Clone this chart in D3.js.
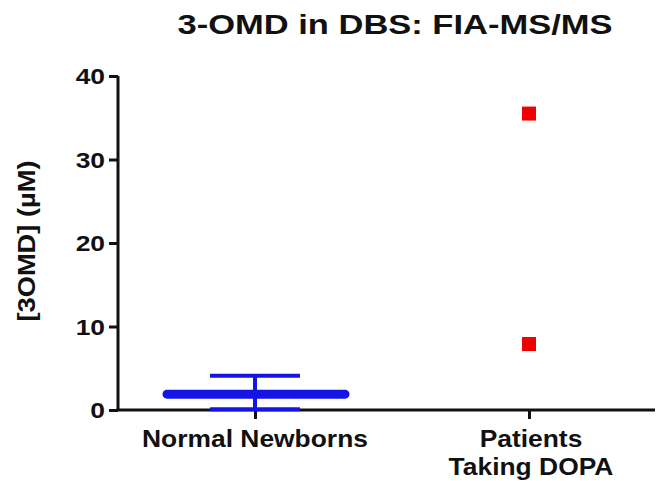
<!DOCTYPE html>
<html><head><meta charset="utf-8">
<script src="https://cdn.jsdelivr.net/npm/d3@7"></script>
<style>body{margin:0;background:#fff}svg{display:block}text{font-family:"Liberation Sans",Arial,sans-serif;font-weight:bold;fill:#111}</style>
</head><body>
<script>
const categories = ["Normal Newborns", "Patients Taking DOPA"];
const categoryLines = [["Normal Newborns"], ["Patients", "Taking DOPA"]];
const newbornMean = 1.9, newbornUpper = 4.1, newbornLower = 0.1;
const patientValues = [35.5, 7.9];
const yTicks = [0, 10, 20, 30, 40];
const title = "3-OMD in DBS: FIA-MS/MS";
const yLabel = "[3OMD] (µM)";

(function () {
const W = 658, H = 481;
const svg = d3.select("body").append("svg").attr("width", W).attr("height", H);
const mL = 118, mR = 655, mT = 76, mB = 410;
const x = d3.scalePoint().domain(categories).range([255, 529]);
const y = d3.scaleLinear().domain([0, 40]).range([mB, mT]);
function widen(sel, stretch) {
  sel.each(function () {
    const w = this.getComputedTextLength();
    d3.select(this).attr("textLength", w * stretch).attr("lengthAdjust", "spacingAndGlyphs");
  });
}

svg.append("text").attr("x", 395).attr("y", 34).attr("text-anchor", "middle").style("font-size", "27px").text(title)
  .attr("textLength", 435).attr("lengthAdjust", "spacingAndGlyphs");

const ya = svg.append("g").attr("transform", `translate(${mL},0)`)
  .call(d3.axisLeft(y).tickValues(yTicks).tickSize(9).tickPadding(4));
ya.select(".domain").attr("stroke", "#111").attr("stroke-width", 3).attr("d", `M0,${mT}V${mB}`);
ya.selectAll(".tick line").attr("stroke", "#111").attr("stroke-width", 3);
ya.selectAll(".tick text").style("font-size", "22px").attr("dy", "0.36em").style("font-family", '"Liberation Sans",Arial,sans-serif').style("font-weight", "bold").attr("fill", "#111").call(widen, 1.2);

const xa = svg.append("g").attr("transform", `translate(0,${mB})`)
  .call(d3.axisBottom(x).tickSize(9).tickFormat(""));
xa.select(".domain").attr("stroke", "#111").attr("stroke-width", 3).attr("d", `M${mL - 1.5},0H${mR}`);
xa.selectAll(".tick line").attr("stroke", "#111").attr("stroke-width", 3);

categoryLines.forEach((lines, i) => {
  lines.forEach((l, j) => svg.append("text").attr("x", x(categories[i]) + (i ? 2 : 0)).attr("y", 447 + j * 28)
    .attr("text-anchor", "middle").style("font-size", "24px").text(l).call(widen, 1.1));
});

svg.append("text").attr("transform", `translate(35,241) rotate(-90)`).attr("text-anchor", "middle").style("font-size", "23px").text(yLabel)
  .attr("textLength", 161).attr("lengthAdjust", "spacingAndGlyphs");

const blue = "#1414e6";
const cx = x(categories[0]);
const g = svg.append("g");
g.append("line").attr("x1", cx).attr("x2", cx).attr("y1", y(newbornUpper)).attr("y2", y(newbornLower)).attr("stroke", blue).attr("stroke-width", 4);
[newbornUpper, newbornLower].forEach(v => g.append("line").attr("x1", cx - 45).attr("x2", cx + 45).attr("y1", y(v)).attr("y2", y(v)).attr("stroke", blue).attr("stroke-width", 4));
g.append("line").attr("x1", cx - 88).attr("x2", cx + 90).attr("y1", y(newbornMean)).attr("y2", y(newbornMean)).attr("stroke", blue).attr("stroke-width", 9).attr("stroke-linecap", "round");

svg.append("g").selectAll("rect").data(patientValues).join("rect")
  .attr("x", x(categories[1]) - 7).attr("y", d => y(d) - 7).attr("width", 14).attr("height", 14).attr("fill", "#f00000");
})();
</script>
</body></html>
